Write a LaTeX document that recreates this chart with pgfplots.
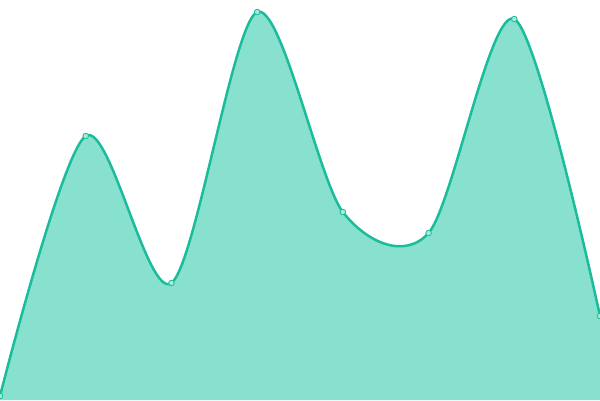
\documentclass[border=0pt]{standalone}
\usepackage{pgfplots}
\pgfplotsset{compat=1.18}
\definecolor{tq}{HTML}{1ABC9C}
\definecolor{tqfill}{HTML}{88E0CF}
\definecolor{mk}{HTML}{A6EADB}
\begin{document}
\begin{tikzpicture}
\begin{axis}[
  width=600pt, height=400pt, scale only axis,
  xmin=0, xmax=7, ymin=0, ymax=400,
  hide axis, clip=true, clip marker paths=true,
]
\addplot[draw=none, fill=tqfill, smooth, tension=0.5] coordinates {
(0,4) (1,264) (2,117) (3,388) (4,188) (5,167) (6,381) (7,84)
} \closedcycle;
\addplot[tq, line width=2.5pt, smooth, tension=0.5,
  mark=*, mark size=2.8pt, mark options={fill=mk, draw=tq, line width=0.8pt}] coordinates {
(0,4) (1,264) (2,117) (3,388) (4,188) (5,167) (6,381) (7,84)
};
\end{axis}
\pgfresetboundingbox
\path (current axis.south west) rectangle (current axis.north east);
\end{tikzpicture}
\end{document}
